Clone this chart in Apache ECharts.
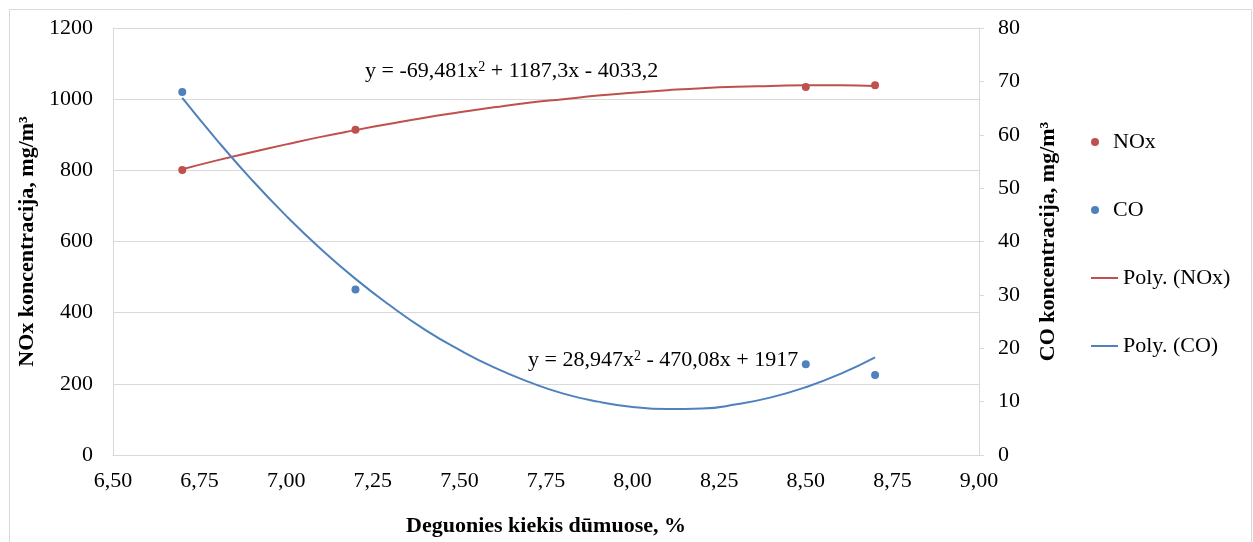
<!DOCTYPE html>
<html><head><meta charset="utf-8">
<script src="https://cdn.jsdelivr.net/npm/echarts@6/dist/echarts.min.js"></script>
<style>html,body{margin:0;padding:0;background:#fff}#c{width:1253px;height:542px}</style>
</head><body><div id="c"></div>
<script>
// measured points
const noxX = [6.7, 7.2, 8.5, 8.7];
const noxY = [801, 914, 1034, 1039];
const coX = [6.7, 7.2, 8.5, 8.7];
const coY = [68, 31, 17, 15];
// trend curves
const trendX = [6.7,6.8,6.9,7.0,7.1,7.2,7.3,7.4,7.5,7.6,7.7,7.8,7.9,8.0,8.1,8.2,8.3,8.4,8.5,8.6,8.7];
const noxTrend = [803,828,851,873,894,913,931,948,963,977,990,1000,1010,1018,1025,1031,1035,1037,1039,1039,1037];
const coTrend = [66.9,59.0,51.6,44.8,38.6,33.0,28.0,23.5,19.7,16.4,13.7,11.5,10.0,9.0,8.6,8.7,9.5,10.8,12.7,15.2,18.3];
const xTicks = {min: 6.5, max: 9.0, interval: 0.25};
const legendNames = ['NOx', 'CO', 'Poly. (NOx)', 'Poly. (CO)'];
const eqNOx = 'y = -69,481x{sup|2} + 1187,3x - 4033,2';
const eqCO = 'y = 28,947x{sup|2} - 470,08x + 1917';

const FONT = '"Liberation Serif", "Times New Roman", serif';
const FS = 22;
const RED = '#C0504D', BLUE = '#4F81BD', GRID = '#D9D9D9';
const zip = (a, b) => a.map((v, i) => [v, b[i]]);
const titleStyle = {fontFamily: FONT, fontSize: FS, fontWeight: 'bold', color: '#000'};
const labelStyle = {fontFamily: FONT, fontSize: FS, color: '#000'};

const chart = echarts.init(document.getElementById('c'));
chart.setOption({
  animation: false,
  textStyle: {fontFamily: FONT},
  grid: {left: 113, right: 274, top: 28, bottom: 85},
  xAxis: {
    type: 'value', min: xTicks.min, max: xTicks.max, interval: xTicks.interval,
    name: 'Deguonies kiekis dūmuose, %', nameLocation: 'middle', nameGap: 60,
    nameTextStyle: titleStyle,
    axisLine: {lineStyle: {color: GRID}}, axisTick: {show: false},
    axisLabel: Object.assign({margin: 15, formatter: v => v.toFixed(2).replace('.', ',')}, labelStyle),
    splitLine: {show: false}
  },
  yAxis: [{
    type: 'value', min: 0, max: 1200, interval: 200,
    name: 'NOx koncentracija, mg/m³', nameLocation: 'middle', nameGap: 65, nameRotate: 90,
    nameTextStyle: titleStyle,
    axisLine: {show: true, lineStyle: {color: GRID}}, axisTick: {show: false},
    axisLabel: Object.assign({margin: 20, formatter: v => String(v)}, labelStyle),
    splitLine: {lineStyle: {color: GRID}}
  }, {
    type: 'value', min: 0, max: 80, interval: 10, position: 'right',
    name: 'CO koncentracija, mg/m³', nameLocation: 'middle', nameGap: 58, nameRotate: 90,
    nameTextStyle: titleStyle,
    axisLine: {show: true, lineStyle: {color: GRID}},
    axisTick: {show: true, length: 5, lineStyle: {color: GRID}},
    axisLabel: Object.assign({margin: 19, formatter: v => String(v)}, labelStyle),
    splitLine: {show: false}
  }],
  legend: [{
    orient: 'vertical', left: 1086, top: 126, itemGap: 46, itemWidth: 26, itemHeight: 8,
    textStyle: labelStyle,
    data: [{name: legendNames[0], icon: 'circle'}, {name: legendNames[1], icon: 'circle'}]
  }, {
    orient: 'vertical', left: 1086, top: 262, itemGap: 46, itemWidth: 27, itemHeight: 2,
    textStyle: labelStyle,
    data: [{name: legendNames[2], icon: 'rect'}, {name: legendNames[3], icon: 'rect'}]
  }],
  graphic: [
    {type: 'rect', left: 7, top: 7, shape: {width: 1242, height: 540},
     style: {fill: 'none', stroke: '#D9D9D9', lineWidth: 1}, silent: true},
    {type: 'text', left: 365, top: 60, style: {text: eqNOx, fontFamily: FONT, fontSize: FS, fill: '#000',
      rich: {sup: {fontFamily: FONT, fontSize: 14, verticalAlign: 'top'}}}},
    {type: 'text', left: 528, top: 349, style: {text: eqCO, fontFamily: FONT, fontSize: FS, fill: '#000',
      rich: {sup: {fontFamily: FONT, fontSize: 14, verticalAlign: 'top'}}}}
  ],
  series: [
    {name: legendNames[2], type: 'line', yAxisIndex: 0, data: zip(trendX, noxTrend), smooth: true,
     symbol: 'none', lineStyle: {color: RED, width: 2}, itemStyle: {color: RED}, z: 2},
    {name: legendNames[3], type: 'line', yAxisIndex: 1, data: zip(trendX, coTrend), smooth: true,
     symbol: 'none', lineStyle: {color: BLUE, width: 2}, itemStyle: {color: BLUE}, z: 2},
    {name: legendNames[0], type: 'scatter', yAxisIndex: 0, data: zip(noxX, noxY), symbolSize: 8,
     itemStyle: {color: RED, opacity: 1}, z: 3},
    {name: legendNames[1], type: 'scatter', yAxisIndex: 1, data: zip(coX, coY), symbolSize: 8,
     itemStyle: {color: BLUE, opacity: 1}, z: 3}
  ]
});
</script></body></html>
